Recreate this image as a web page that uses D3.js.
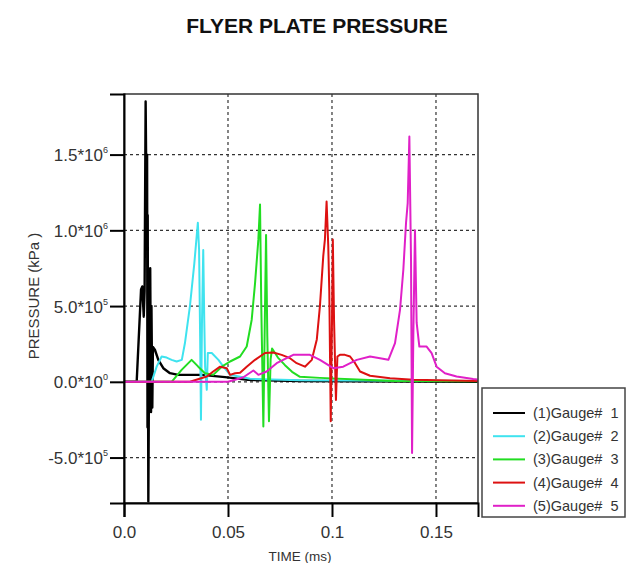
<!DOCTYPE html>
<html>
<head>
  <meta charset='utf-8'>
  <title>Flyer plate pressure</title>
  <script src="https://d3js.org/d3.v7.min.js"></script>
  <style>
    body { margin: 0; background: #fff; }
    text { font-family: 'Liberation Sans', Arial, sans-serif; }
  </style>
</head>
<body>
  <svg width=628 height=563></svg>

<script>

  // time in ms, pressure in kPa
  let g1_t = [0, 0.0061, 0.0082, 0.0088, 0.0095, 0.0099, 0.0104, 0.0108, 0.0111, 0.0113, 0.0114, 0.0117, 0.0120, 0.0126, 0.0130, 0.0132, 0.0136, 0.0139, 0.0149, 0.0165, 0.0189, 0.0221, 0.0261, 0.0374, 0.0486, 0.0596, 0.0846, 0.170];
  let g1_p = [0, 0, 6.1e5, 6.3e5, 4.3e5, 6.0e5, 1.85e6, 1.2e6, 1.5e6, -3e5, 1.1e6, -7.9e5, 0, 7.5e5, -2e5, 5e5, -1.7e5, 2.3e5, 2.1e5, 1.45e5, 9e4, 5.7e4, 4.6e4, 4.6e4, 3.1e4, 1.3e4, 5e3, 0];

  let g2_t = [0, 0.0133, 0.0157, 0.0181, 0.0205, 0.0229, 0.0253, 0.0278, 0.0293, 0.0317, 0.0338, 0.0355, 0.0361, 0.0366, 0.0370, 0.0375, 0.0381, 0.0386, 0.0390, 0.0398, 0.0403, 0.0422, 0.0454, 0.0478, 0.0510, 0.0606, 0.0846, 0.170];
  let g2_p = [0, 0, 1.0e5, 1.67e5, 1.6e5, 1.45e5, 1.34e5, 1.45e5, 2.56e5, 5.0e5, 7.8e5, 1.05e6, 8.7e5, 3e5, -2.5e5, 4e5, 8.7e5, 4e5, 1e5, -5.3e4, 1.9e5, 1.9e5, 1.45e5, 1.0e5, 4.6e4, 2e4, 1e4, 5e3];

  let g3_t = [0, 0.0229, 0.0277, 0.0325, 0.0357, 0.0389, 0.0429, 0.0470, 0.0510, 0.0558, 0.0590, 0.0614, 0.0630, 0.0646, 0.0654, 0.0660, 0.0670, 0.0676, 0.0683, 0.0689, 0.0697, 0.0705, 0.0712, 0.0740, 0.0774, 0.0808, 0.0846, 0.0942, 0.1149, 0.130, 0.170];
  let g3_p = [0, 0, 7.9e4, 1.45e5, 1.0e5, 5.7e4, 4.6e4, 1.0e5, 1.34e5, 1.67e5, 2.33e5, 4.1e5, 6.5e5, 9.4e5, 1.17e6, 5e5, -2.95e5, 3e5, 9.7e5, 3e5, -2.6e5, 1.5e5, 2.2e5, 1.6e5, 1.1e5, 6.6e4, 3.3e4, 2.6e4, 1.3e4, 5e3, 3e3];

  let g4_t = [0, 0.0317, 0.0398, 0.0429, 0.0462, 0.0494, 0.0510, 0.0534, 0.0558, 0.0590, 0.0630, 0.0678, 0.0718, 0.0758, 0.0798, 0.0830, 0.0870, 0.0903, 0.0927, 0.0942, 0.0958, 0.0966, 0.0974, 0.0982, 0.0987, 0.0994, 0.1000, 0.1004, 0.1010, 0.1019, 0.1026, 0.1038, 0.1062, 0.1087, 0.1111, 0.1135, 0.1183, 0.1279, 0.1391, 0.170];
  let g4_p = [0, 0, 3.5e4, 6.8e4, 1.0e5, 9e4, 4.6e4, 5.7e4, 6e4, 1.0e5, 1.45e5, 1.9e5, 1.94e5, 1.78e5, 1.56e5, 1.23e5, 1.0e5, 1.45e5, 2.8e5, 5e5, 8.3e5, 9.4e5, 1.19e6, 9e5, 6e5, -2.6e5, 4e5, 9.4e5, 4e5, -1.2e5, 1.67e5, 1.78e5, 1.78e5, 1.67e5, 1.23e5, 6.8e4, 4e4, 2.4e4, 1.3e4, 5e3];

  let g5_t = [0, 0.0500, 0.0526, 0.0574, 0.0622, 0.0646, 0.0686, 0.0734, 0.0782, 0.0814, 0.0894, 0.0942, 0.1006, 0.1054, 0.1119, 0.1183, 0.1231, 0.1271, 0.1303, 0.1327, 0.1343, 0.1356, 0.1364, 0.1372, 0.1380, 0.1385, 0.1391, 0.1399, 0.1407, 0.1420, 0.1455, 0.1479, 0.1503, 0.1543, 0.1599, 0.1679, 0.170];
  let g5_p = [0, 0, 1e4, 3e4, 7.5e4, 4.6e4, 6.8e4, 1.23e5, 1.56e5, 1.78e5, 1.78e5, 1.45e5, 9e4, 1.0e5, 1.45e5, 1.67e5, 1.56e5, 1.45e5, 2.56e5, 4.75e5, 7.4e5, 1.05e6, 1.18e6, 1.62e6, 8e5, -4.7e5, 3e5, 1.0e6, 3.9e5, 2.33e5, 2.33e5, 1.9e5, 1.0e5, 5.7e4, 3.5e4, 1.8e4, 1.5e4];

  let seriesNames = ['(1)Gauge#  1', '(2)Gauge#  2', '(3)Gauge#  3', '(4)Gauge#  4', '(5)Gauge#  5'];
  let seriesColors = ['#000000', '#3fe3ef', '#22dd22', '#dd1111', '#e020c8'];

  let xTicks = [0, 0.05, 0.1, 0.15];
  let xTickLabels = ['0.0', '0.05', '0.1', '0.15'];
  let yTicks = [-5e5, 0, 5e5, 1e6, 1.5e6];

  let series = [[g1_t, g1_p], [g2_t, g2_p], [g3_t, g3_p], [g4_t, g4_p], [g5_t, g5_p]]
    .map(function(s, i) {
      return {
        name: seriesNames[i],
        color: seriesColors[i],
        values: s[0].map((t, j) => ({t: t, p: s[1][j]}))
      };
    });

  const plotLeft = 124, plotRight = 478, plotTop = 94, plotBottom = 503;

  let x = d3.scaleLinear().domain([0, 0.1702]).range([plotLeft, plotRight]);
  let y = d3.scaleLinear().domain([-8e5, 1.9e6]).range([plotBottom, plotTop]);

  let svg = d3.select('svg');

  // title
  svg.append('text')
    .attr('x', 317).attr('y', 33)
    .attr('text-anchor', 'middle')
    .attr('font-size', '21px')
    .attr('font-weight', 'bold')
    .attr('fill', '#111')
    .text('FLYER PLATE PRESSURE');

  // grid
  svg.append('g').selectAll('line')
    .data(yTicks)
    .enter().append('line')
      .attr('x1', plotLeft).attr('x2', plotRight)
      .attr('y1', d => y(d)).attr('y2', d => y(d))
      .attr('stroke', '#333').attr('stroke-width', 1.2)
      .attr('stroke-dasharray', '3,3');

  svg.append('g').selectAll('line')
    .data(xTicks.filter(d => d > 0))
    .enter().append('line')
      .attr('x1', d => x(d)).attr('x2', d => x(d))
      .attr('y1', plotTop).attr('y2', plotBottom)
      .attr('stroke', '#333').attr('stroke-width', 1.2)
      .attr('stroke-dasharray', '3,3');

  // curves
  let line = d3.line()
    .x(d => x(d.t))
    .y(d => y(d.p));

  svg.append('defs').append('clipPath').attr('id', 'clip')
    .append('rect')
      .attr('x', plotLeft).attr('y', plotTop)
      .attr('width', plotRight - plotLeft).attr('height', plotBottom - plotTop);

  svg.append('g')
    .attr('clip-path', 'url(#clip)')
    .selectAll('path')
    .data(series)
    .enter().append('path')
      .attr('d', d => line(d.values))
      .attr('fill', 'none')
      .attr('stroke', d => d.color)
      .attr('stroke-width', (d, i) => i === 0 ? 2.4 : 2)
      .attr('stroke-linejoin', 'round');

  // frame
  svg.append('rect')
    .attr('x', plotLeft).attr('y', plotTop)
    .attr('width', plotRight - plotLeft).attr('height', plotBottom - plotTop)
    .attr('fill', 'none')
    .attr('stroke', '#333')
    .attr('stroke-width', 1.5);

  // y axis
  let yAxis = svg.append('g')
    .attr('transform', `translate(${plotLeft},0)`)
    .call(d3.axisLeft(y).tickValues(yTicks).tickSize(14).tickFormat(''));

  yAxis.select('.domain').attr('stroke', '#000').attr('stroke-width', 2);
  yAxis.selectAll('.tick line').attr('stroke', '#000').attr('stroke-width', 2);

  yAxis.selectAll('.tick').each(function(d) {
    let exp = d === 0 ? 0 : Math.floor(Math.log10(Math.abs(d)));
    let mant = d / Math.pow(10, exp);
    let t = d3.select(this).append('text')
      .attr('x', -16)
      .attr('y', 6)
      .attr('text-anchor', 'end')
      .attr('fill', '#333')
      .attr('font-size', '17px');
    t.append('tspan').text(mant.toFixed(1) + '*10');
    t.append('tspan')
      .attr('font-size', '9px')
      .attr('dy', -8)
      .text(exp);
  });

  // x axis
  let xAxis = svg.append('g')
    .attr('transform', `translate(0,${plotBottom})`)
    .call(d3.axisBottom(x).tickValues(xTicks).tickSize(14)
      .tickFormat((d, i) => xTickLabels[i]));

  xAxis.select('.domain').attr('stroke', '#000').attr('stroke-width', 2);
  xAxis.selectAll('.tick line').attr('stroke', '#000').attr('stroke-width', 2);
  xAxis.selectAll('.tick text')
    .attr('y', 23)
    .attr('dy', '0.71em')
    .attr('fill', '#333')
    .attr('font-size', '17px')
    .attr('font-family', "'Liberation Sans', Arial, sans-serif");

  // axis titles
  svg.append('text')
    .attr('x', 300).attr('y', 561)
    .attr('text-anchor', 'middle')
    .attr('font-size', '13.5px')
    .attr('fill', '#333')
    .text('TIME (ms)');

  svg.append('text')
    .attr('transform', 'translate(39,296) rotate(-90)')
    .attr('text-anchor', 'middle')
    .attr('font-size', '15px')
    .attr('fill', '#333')
    .text('PRESSURE (kPa )');

  // legend
  let legend = svg.append('g').attr('transform', 'translate(482,388)');

  legend.append('rect')
    .attr('width', 143).attr('height', 129)
    .attr('fill', '#fff')
    .attr('stroke', '#444')
    .attr('stroke-width', 1.5);

  let rows = legend.selectAll('g.row')
    .data(series)
    .enter().append('g')
      .attr('class', 'row')
      .attr('transform', (d, i) => `translate(0,${25 + i * 23.2})`);

  rows.append('line')
    .attr('x1', 11).attr('x2', 43)
    .attr('stroke', d => d.color)
    .attr('stroke-width', 2);

  rows.append('text')
    .attr('x', 51).attr('y', 5)
    .attr('font-size', '14.5px')
    .attr('fill', '#333')
    .style('white-space', 'pre')
    .text(d => d.name);

</script>
</body>
</html>
